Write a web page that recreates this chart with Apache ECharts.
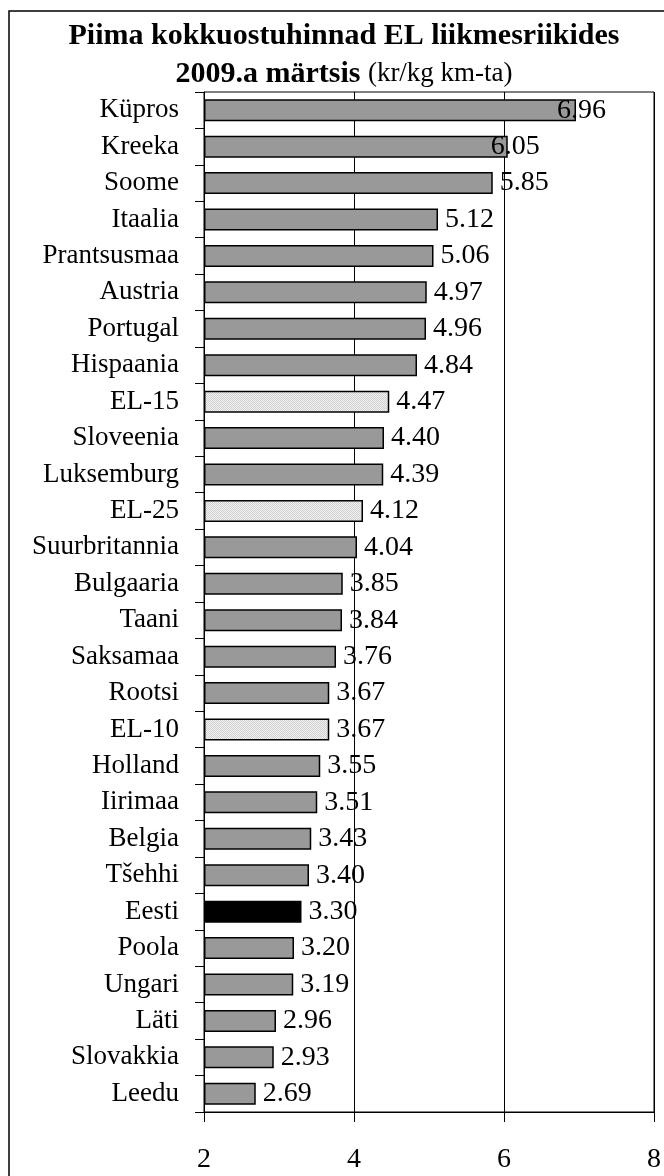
<!DOCTYPE html>
<html>
<head>
<meta charset="utf-8">
<script src="https://cdn.jsdelivr.net/npm/echarts@6/dist/echarts.min.js"></script>
<style>
  html, body { margin: 0; padding: 0; background: #fff; }
  #chart { width: 664px; height: 1176px; }
</style>
</head>
<body>
<div id="chart"></div>
<script>
const countries = [
  "Küpros", "Kreeka", "Soome", "Itaalia", "Prantsusmaa", "Austria", "Portugal",
  "Hispaania", "EL-15", "Sloveenia", "Luksemburg", "EL-25", "Suurbritannia",
  "Bulgaaria", "Taani", "Saksamaa", "Rootsi", "EL-10", "Holland", "Iirimaa",
  "Belgia", "Tšehhi", "Eesti", "Poola", "Ungari", "Läti", "Slovakkia", "Leedu"
];
const prices = [
  6.96, 6.05, 5.85, 5.12, 5.06, 4.97, 4.96,
  4.84, 4.47, 4.40, 4.39, 4.12, 4.04,
  3.85, 3.84, 3.76, 3.67, 3.67, 3.55, 3.51,
  3.43, 3.40, 3.30, 3.20, 3.19, 2.96, 2.93, 2.69
];
const xTicks = [2, 4, 6, 8];

const FONT = '"Liberation Serif", "Times New Roman", serif';

// dotted fill used by Excel for the EU averages
const makeDots = () => {
  const c = document.createElement("canvas");
  c.width = 2; c.height = 2;
  const ctx = c.getContext("2d");
  ctx.fillStyle = "#f2f2f2";
  ctx.fillRect(0, 0, 2, 2);
  ctx.fillStyle = "#cfcfcf";
  ctx.fillRect(0, 0, 1, 1);
  ctx.fillRect(1, 1, 1, 1);
  return c;
};
const dots = { image: makeDots(), repeat: "repeat" };

const fillFor = (name) => {
  if (name.startsWith("EL-")) return dots;
  if (name === "Eesti") return "#000000";
  return "#999999";
};

// Excel pushed the two longest labels back over the bar end
const labelShift = { "Küpros": -26, "Kreeka": -24 };

const chart = echarts.init(document.getElementById("chart"));

chart.setOption({
  backgroundColor: "#fff",
  animation: false,
  graphic: [
    {
      type: "rect",
      shape: { x: 9, y: 11, width: 700, height: 1200 },
      style: { fill: "none", stroke: "#000", lineWidth: 1.5 },
      silent: true,
      z: -1
    }
  ],
  title: {
    left: 339,
    textAlign: "center",
    top: 12,
    text: "Piima kokkuostuhinnad EL liikmesriikides\n{b|2009.a märtsis} {n|(kr/kg km-ta)}",
    textStyle: {
      fontFamily: FONT,
      fontSize: 30,
      fontWeight: "bold",
      color: "#000",
      lineHeight: 38,
      rich: {
        b: { fontFamily: FONT, fontSize: 30, fontWeight: "bold", color: "#000", lineHeight: 38 },
        n: { fontFamily: FONT, fontSize: 27, fontWeight: "normal", color: "#000", lineHeight: 38 }
      }
    }
  },
  grid: {
    left: 204,
    right: 9,
    top: 92,
    bottom: 64,
    show: true,
    borderColor: "#000",
    borderWidth: 1,
    containLabel: false
  },
  xAxis: {
    type: "value",
    min: xTicks[0],
    max: xTicks[xTicks.length - 1],
    interval: 2,
    startValue: 2,
    axisLine: { show: true, lineStyle: { color: "#000", width: 1 } },
    axisTick: { show: true, length: 10, lineStyle: { color: "#000" } },
    axisLabel: {
      color: "#000",
      fontFamily: FONT,
      fontSize: 28,
      margin: 34
    },
    splitLine: { show: true, lineStyle: { color: "#000", width: 1 } }
  },
  yAxis: {
    type: "category",
    inverse: true,
    data: countries,
    axisLine: { show: true, lineStyle: { color: "#000", width: 1 } },
    axisTick: { show: true, length: 9, lineStyle: { color: "#000" } },
    axisLabel: {
      color: "#000",
      fontFamily: FONT,
      fontSize: 27,
      margin: 25
    }
  },
  series: [
    {
      type: "bar",
      barWidth: 22,
      data: prices.map((value, i) => ({
        value,
        itemStyle: { color: fillFor(countries[i]) },
        label: labelShift[countries[i]] ? { offset: [labelShift[countries[i]], 0] } : undefined
      })),
      itemStyle: { borderColor: "#000", borderWidth: 1.5 },
      label: {
        show: true,
        position: "right",
        distance: 7,
        color: "#000",
        fontFamily: FONT,
        fontSize: 28,
        formatter: (p) => p.value.toFixed(2)
      }
    }
  ]
});
</script>
</body>
</html>
